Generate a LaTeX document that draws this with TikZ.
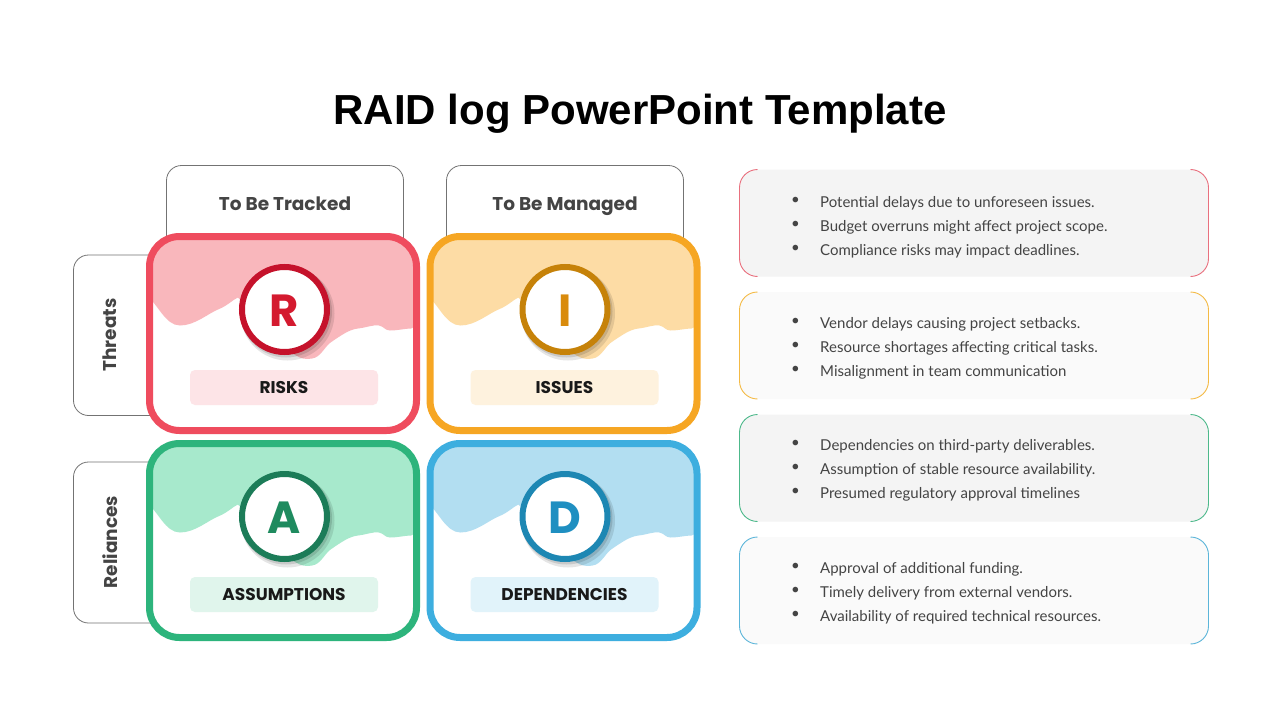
\documentclass[tikz,border=0pt]{standalone}
\usepackage{fontspec}
\setmainfont{Lato}
\newfontfamily\titlefont{Liberation Sans}
\newfontfamily\headfont{Poppins}

\definecolor{risk}{HTML}{EF4C5E}
\definecolor{blobrisk}{HTML}{F9B7BC}
\definecolor{ringrisk}{HTML}{C5122B}
\definecolor{letterrisk}{HTML}{D41A2F}
\definecolor{pillrisk}{HTML}{FDE4E7}
\definecolor{linerisk}{HTML}{E9707E}
\definecolor{issue}{HTML}{F6A623}
\definecolor{blobissue}{HTML}{FDDCA5}
\definecolor{ringissue}{HTML}{C68209}
\definecolor{letterissue}{HTML}{D98B0C}
\definecolor{pillissue}{HTML}{FEF2DE}
\definecolor{lineissue}{HTML}{F4BA45}
\definecolor{assum}{HTML}{2DB47C}
\definecolor{blobassum}{HTML}{A7E9CC}
\definecolor{ringassum}{HTML}{1C7C58}
\definecolor{letterassum}{HTML}{1F8B5F}
\definecolor{pillassum}{HTML}{E0F5EC}
\definecolor{lineassum}{HTML}{4DB98B}
\definecolor{depend}{HTML}{3DAEDF}
\definecolor{blobdepend}{HTML}{B2DEF1}
\definecolor{ringdepend}{HTML}{1D87B3}
\definecolor{letterdepend}{HTML}{1F8FC1}
\definecolor{pilldepend}{HTML}{E1F3FA}
\definecolor{linedepend}{HTML}{5BB5D9}
\definecolor{panelA}{HTML}{F4F4F4}
\definecolor{panelB}{HTML}{FAFAFA}
\definecolor{ink}{HTML}{444444}

\newcommand\raiditems[3]{\begin{tabular}[t]{@{}p{29pt}@{}l@{}}
  \raisebox{3pt}{\textbullet} & #1\\
  \raisebox{3pt}{\textbullet} & #2\\
  \raisebox{3pt}{\textbullet} & #3
\end{tabular}}

\begin{document}
\begin{tikzpicture}[x=1pt,y=-1pt,
    hdrbox/.style={draw=black!55,line width=0.8pt,fill=white,rounded corners=15pt},
    hdrtext/.style={font=\headfont\bfseries\fontsize{18.5}{22}\selectfont,text=ink},
    lettertext/.style={font=\headfont\bfseries\fontsize{45}{45}\selectfont,inner sep=0pt},
    pilltext/.style={font=\headfont\bfseries\fontsize{17}{20}\selectfont,text=black!90,inner sep=0pt},
    itemtext/.style={font=\fontsize{15}{24}\selectfont,text=ink,anchor=base west,inner sep=0pt}]
  \useasboundingbox (0,0) rectangle (1280,720);
  \fill[white] (0,0) rectangle (1280,720);

  \node[font=\titlefont\bfseries\fontsize{42}{44}\selectfont,anchor=base] (title) at (640,124) {RAID log PowerPoint Template};

  % column and row headers
  \draw[hdrbox] (166.5,165.5) rectangle (403.5,262);
  \draw[hdrbox] (446.5,165.5) rectangle (683.5,262);
  \draw[hdrbox] (73.5,255) rectangle (172,415.5);
  \draw[hdrbox] (73.5,462) rectangle (172,623);
  \node[hdrtext,anchor=base] (tracked) at (285,210) {To Be Tracked};
  \node[hdrtext,anchor=base] (managed) at (565,210) {To Be Managed};
  \node[hdrtext,rotate=90] (threats) at (110,335) {Threats};
  \node[hdrtext,rotate=90] (reliances) at (110,542) {Reliances};

  % the four cards
  \foreach \nm/\cx/\cy/\L/\lab in {risk/283/333.5/R/RISKS, issue/563.5/333.5/I/ISSUES,
      assum/283/540.5/A/ASSUMPTIONS, depend/563.5/540.5/D/DEPENDENCIES}{
    \begin{scope}[shift={(\cx,\cy)}]
      \fill[white,rounded corners=30pt] (-133.5,-97) rectangle (133.5,97);
      \begin{scope}
        \clip[rounded corners=30pt] (-133.5,-97) rectangle (133.5,97);
        \fill[blob\nm] (-140,-105) -- (-140,-42)
          .. controls (-125,-30) and (-118,-8) .. (-103,-8)
          .. controls (-88,-8) and (-75,-20) .. (-65,-24)
          .. controls (-55,-28) and (-50,-34) .. (-45,-36)
          -- (10,20)
          .. controls (18,26) and (24,26) .. (29,25)
          .. controls (38,24) and (42,12) .. (49,8)
          .. controls (58,2) and (66,-4) .. (75,-5)
          .. controls (84,-6) and (90,-9) .. (96,-8)
          .. controls (101,-7) and (102,-3) .. (107,-3)
          .. controls (115,-3) and (122,-5) .. (128,-5)
          .. controls (134,-5) and (136,-15) .. (140,-25)
          -- (140,-105) -- cycle;
      \end{scope}
      \draw[\nm,line width=7pt,rounded corners=30pt] (-133.5,-97) rectangle (133.5,97);
      \fill[black,opacity=0.10] (4.5,-20) circle (47);
      \fill[black,opacity=0.12] (3,-22) circle (46);
      \draw[ring\nm,line width=6pt,fill=white] (1.5,-24) circle (42.5);
      \node[lettertext,text=letter\nm] (\nm-letter) at (1.5,-22.5) {\L};
      \fill[pill\nm,rounded corners=5pt] (-93,36.5) rectangle (95,71.5);
      \node[pilltext] (\nm-label) at (1,54.5) {\lab};
    \end{scope}
  }

  % notes on the right
  \foreach \nm/\ty/\fl in {risk/169.5/panelA, issue/292/panelB, assum/414.5/panelA, depend/537/panelB}{
    \fill[\fl,rounded corners=18pt] (739.5,\ty) rectangle (1208.5,\ty+107);
    \draw[line\nm,line width=0.9pt,rounded corners=18pt]
      (757.5,\ty) -- (739.5,\ty) -- (739.5,\ty+107) -- (757.5,\ty+107);
    \draw[line\nm,line width=0.9pt,rounded corners=18pt]
      (1190.5,\ty) -- (1208.5,\ty) -- (1208.5,\ty+107) -- (1190.5,\ty+107);
  }
  \node[itemtext] (riskitems) at (791,207) {\raiditems{Potential delays due to unforeseen issues.}{Budget overruns might affect project scope.}{Compliance risks may impact deadlines.}};
  \node[itemtext] (issueitems) at (791,328.5) {\raiditems{Vendor delays causing project setbacks.}{Resource shortages affecting critical tasks.}{Misalignment in team communication}};
  \node[itemtext] (assumitems) at (791,450.5) {\raiditems{Dependencies on third-party deliverables.}{Assumption of stable resource availability.}{Presumed regulatory approval timelines}};
  \node[itemtext] (dependitems) at (791,573.5) {\raiditems{Approval of additional funding.}{Timely delivery from external vendors.}{Availability of required technical resources.}};
\end{tikzpicture}
\end{document}
